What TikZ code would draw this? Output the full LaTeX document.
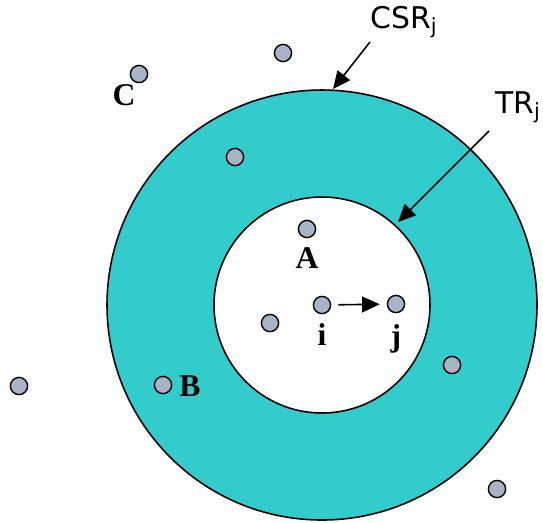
\documentclass[tikz,border=0pt]{standalone}
\usepackage{xcolor}
\usepackage{tikz}
\usepackage{fontspec}
\setmainfont{Liberation Serif}
\newfontfamily\labelfont{DejaVu Sans}
\usetikzlibrary{arrows.meta}
\definecolor{ringteal}{HTML}{33CCCC}
\definecolor{dotgrey}{HTML}{A6B4C6}
\tikzset{
  dot/.style={circle,draw=black,fill=dotgrey,line width=0.8pt,inner sep=0pt,minimum size=9.8pt},
  letter/.style={font=\fontsize{18}{18}\selectfont\bfseries,inner sep=0pt},
  rangelabel/.style={font=\labelfont\fontsize{17}{17}\selectfont,inner sep=0pt},
  pointer/.style={line width=0.9pt,-{Triangle[length=10pt,width=9pt]}}
}

\begin{document}
\begin{tikzpicture}[x=0.02cm,y=-0.02cm]
\useasboundingbox (0,0) rectangle (543,522);
\draw[fill=ringteal,line width=0.9pt] (322,305) circle (215);
\draw[fill=white,line width=0.9pt] (322,305) circle (108);
\node[dot] (n1) at (283,53) {};
\node[dot] (c) at (139,74) {};
\node[dot] (n2) at (235,157) {};
\node[dot] (a) at (307,229) {};
\node[dot] (n3) at (270,323) {};
\node[dot] (i) at (322,305) {};
\node[dot] (j) at (396,304) {};
\node[dot] (n4) at (452,365) {};
\node[dot] (b) at (163,385) {};
\node[dot] (n5) at (19,386) {};
\node[dot] (n6) at (497,489) {};
\node[letter] at (124,95) {C};
\node[letter] at (307,258) {A};
\node[letter] at (322,335) {i};
\node[letter] at (396,339) {j};
\node[letter] at (190,386) {B};
\node[rangelabel] (csr) at (404,22) {CSR\textsubscript{j}};
\node[rangelabel] (tr) at (518,107) {TR\textsubscript{j}};
\coordinate (csrtip) at (333,89);
\coordinate (trtip) at (398,222);
\draw[pointer] (370,42) -- (csrtip);
\draw[pointer] (489,131) -- (trtip);
\draw[pointer,shorten <=4pt,shorten >=4pt] (i) -- (j);
\end{tikzpicture}
\end{document}
